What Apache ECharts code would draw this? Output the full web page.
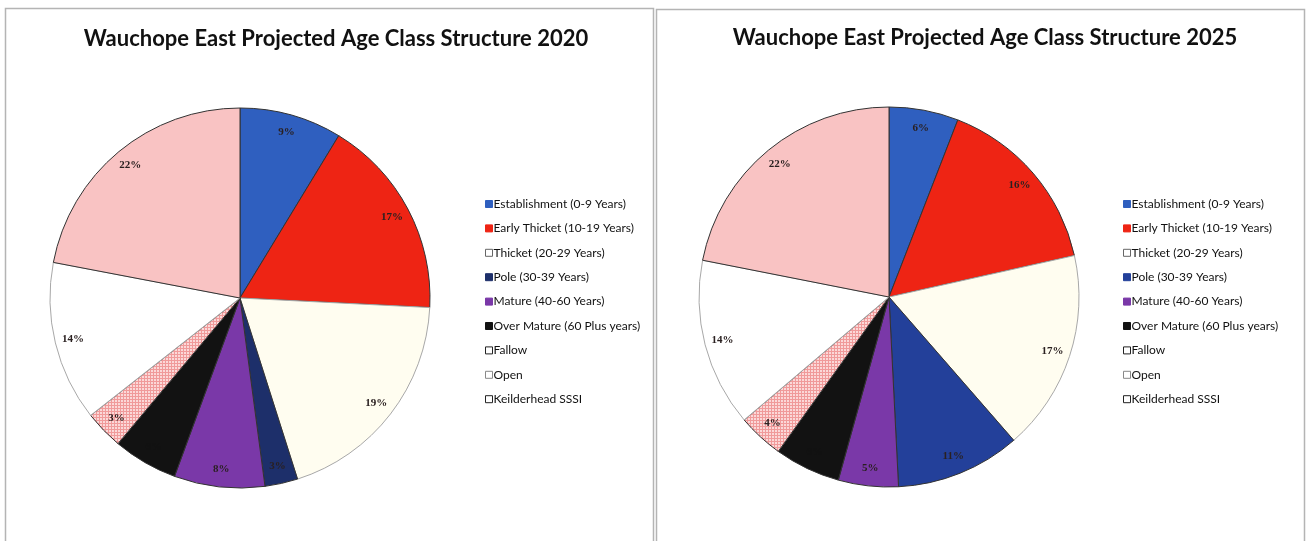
<!DOCTYPE html>
<html>
<head>
<meta charset="utf-8">
<script src="https://cdn.jsdelivr.net/npm/echarts@6/dist/echarts.min.js"></script>
<style>
  html, body { margin: 0; padding: 0; background: #fff; }
  #chart { width: 1314px; height: 541px; }
</style>
</head>
<body>
<div id="chart"></div>
<script>
// age classes, clockwise from 12 o'clock
var categories = [
  'Establishment (0-9 Years)',
  'Early Thicket (10-19 Years)',
  'Thicket (20-29 Years)',
  'Pole (30-39 Years)',
  'Mature (40-60 Years)',
  'Over Mature (60 Plus years)',
  'Fallow',
  'Open',
  'Keilderhead SSSI'
];
// share of area, percent
var share2020 = [8.7, 17.1, 19.3, 2.8, 7.7, 5.5, 3.3, 13.6, 22.0];
var share2025 = [5.9, 15.6, 17.1, 10.6, 5.1, 5.6, 3.9, 14.3, 21.9];
var titles = [
  'Wauchope East Projected Age Class Structure 2020',
  'Wauchope East Projected Age Class Structure 2025'
];

// dotted red hatching for Fallow
function hatch() {
  var c = document.createElement('canvas');
  c.width = 3; c.height = 3;
  var ctx = c.getContext('2d');
  ctx.fillStyle = '#fbd8d8';
  ctx.fillRect(0, 0, 3, 3);
  ctx.fillStyle = '#f09a9a';
  ctx.fillRect(0, 0, 3, 1);
  ctx.fillRect(0, 0, 1, 3);
  return c;
}
var fallowFill = { image: hatch(), repeat: 'repeat' };

function colours(poleColor) {
  return ['#2f5fbf', '#ee2414', '#fffdf0', poleColor, '#7a38a8', '#121212', fallowFill, '#ffffff', '#f9c3c3'];
}
var borders = ['#333', '#333', '#a8a8a8', '#333', '#333', '#333', '#333', '#a8a8a8', '#333'];

function sliceData(values, cols) {
  return categories.map(function (name, i) {
    return {
      name: name,
      value: values[i],
      itemStyle: { color: cols[i], borderColor: borders[i], borderWidth: 1 }
    };
  });
}

function labelData(values) {
  return categories.map(function (name, i) {
    var d = { name: name, value: values[i] };
    // text on the black slice disappears into it
    if (i === 5) d.label = { color: '#121212' };
    return d;
  });
}

var legendIcon = ['#2f5fbf', '#ee2414', '#ffffff', '#1d2f6a', '#7a38a8', '#121212', '#ffffff', '#ffffff', '#ffffff'];
var legendBorder = ['#2f5fbf', '#ee2414', '#666', '#1d2f6a', '#7a38a8', '#121212', '#222', '#888', '#222'];

function legendFor(left, poleColor) {
  return {
    orient: 'vertical',
    left: left,
    top: 193,
    itemWidth: 7,
    itemHeight: 7,
    itemGap: 12.4,
    selectedMode: false,
    icon: 'rect',
    textStyle: { fontFamily: 'Lato', fontSize: 12, color: '#111', lineHeight: 12, padding: [0, 0, 0, -4] },
    data: categories.map(function (name, i) {
      return {
        name: name,
        itemStyle: {
          color: i === 3 ? poleColor : legendIcon[i],
          borderColor: i === 3 ? poleColor : legendBorder[i],
          borderWidth: 1
        }
      };
    })
  };
}

function pieSeries(center, values, cols) {
  return {
    type: 'pie',
    center: center,
    radius: 190,
    startAngle: 90,
    clockwise: true,
    silent: true,
    label: { show: false },
    labelLine: { show: false },
    data: sliceData(values, cols)
  };
}

function labelSeries(center, values) {
  return {
    type: 'pie',
    center: center,
    radius: [148, 190],
    startAngle: 90,
    clockwise: true,
    silent: true,
    itemStyle: { color: 'rgba(0,0,0,0)', borderWidth: 0 },
    label: {
      show: true,
      position: 'inside',
      formatter: function (p) { return Math.round(p.percent) + '%'; },
      fontFamily: 'Liberation Serif',
      fontWeight: 'bold',
      fontSize: 11,
      color: '#2a2020'
    },
    labelLine: { show: false },
    data: labelData(values)
  };
}

var myChart = echarts.init(document.getElementById('chart'));
var option = {
  backgroundColor: '#fff',
  animation: false,
  graphic: [
    { type: 'rect', shape: { x: 5.5, y: 8.5, width: 648, height: 560 }, style: { fill: 'none', stroke: '#b4b4b4', lineWidth: 1.5 } },
    { type: 'rect', shape: { x: 656.5, y: 9.5, width: 648, height: 560 }, style: { fill: 'none', stroke: '#b4b4b4', lineWidth: 1.5 } }
  ],
  title: [
    { text: titles[0], left: 331, top: 23, textAlign: 'center', textStyle: { fontFamily: 'Lato', fontWeight: 'bold', fontSize: 22, color: '#111' } },
    { text: titles[1], left: 980, top: 22, textAlign: 'center', textStyle: { fontFamily: 'Lato', fontWeight: 'bold', fontSize: 22, color: '#111' } }
  ],
  legend: [
    legendFor(480, '#1d2f6a'),
    legendFor(1118, '#23409a')
  ],
  series: [
    pieSeries([240, 298], share2020, colours('#1d2f6a')),
    pieSeries([889, 297], share2025, colours('#23409a')),
    labelSeries([240, 298], share2020),
    labelSeries([889, 297], share2025)
  ]
};
option && myChart.setOption(option);
</script>
</body>
</html>
